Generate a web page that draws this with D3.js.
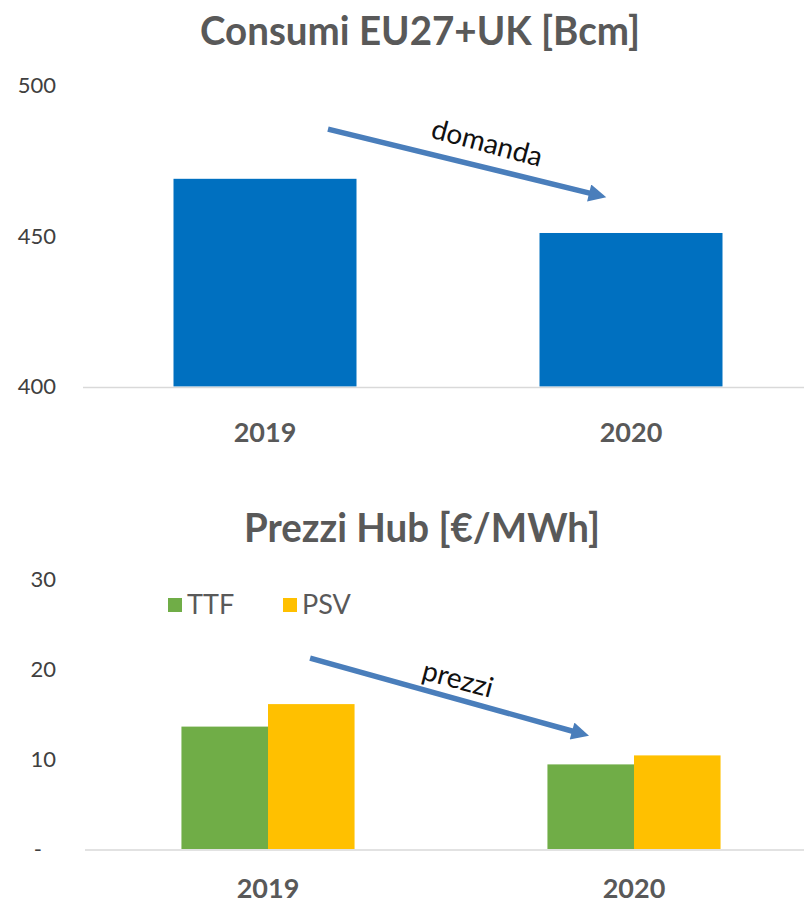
<!DOCTYPE html>
<html>
<head>
<meta charset="utf-8">
<script src="https://cdn.jsdelivr.net/npm/d3@7"></script>
<style>
  body { margin: 0; background: #fff; }
  svg { display: block; font-family: Lato, "Open Sans", sans-serif; }
</style>
</head>
<body>
<svg id="chart" width="804" height="903"></svg>
<script>
// data
const categories = ["2019", "2020"];
const consumi = [469, 451];            // Bcm
const series = ["TTF", "PSV"];
const ttf = [13.6, 9.4];               // €/MWh
const psv = [16.1, 10.4];
const topTicks = [400, 450, 500];
const bottomTicks = [0, 10, 20, 30];
const seriesColors = ["#70AD47", "#FFC000"];

const svg = d3.select('#chart');
const axisGrey = '#d9d9d9';
const titleGrey = '#595959';
const tickGrey = '#404040';
const arrowBlue = '#4a7ebb';

// arrowhead
svg.append('defs').append('marker')
    .attr('id', 'arrow')
    .attr('viewBox', '0 -5 10 10')
    .attr('refX', 2)
    .attr('refY', 0)
    .attr('markerWidth', 3.4)
    .attr('markerHeight', 3.2)
    .attr('orient', 'auto')
    .append('path')
    .attr('d', 'M0,-5L10,0L0,5Z')
    .style('fill', arrowBlue);

function drawTitle(text, x, y, width) {
    svg.append('text')
        .attr('x', x)
        .attr('y', y)
        .attr('text-anchor', 'middle')
        .attr('textLength', width)
        .attr('lengthAdjust', 'spacingAndGlyphs')
        .style('font-size', '40px')
        .style('font-weight', 'bold')
        .style('fill', titleGrey)
        .text(text);
}

function drawArrow(xs, ys, from, to, label, labelPos, angle) {
    svg.append('line')
        .attr('x1', xs(from[0])).attr('y1', ys(from[1]))
        .attr('x2', xs(to[0])).attr('y2', ys(to[1]))
        .style('stroke', arrowBlue)
        .style('stroke-width', 5.5)
        .attr('marker-end', 'url(#arrow)');
    const lx = xs(labelPos[0]), ly = ys(labelPos[1]);
    svg.append('text')
        .attr('transform', `translate(${lx},${ly}) rotate(${angle})`)
        .attr('text-anchor', 'middle')
        .attr('dy', '0.35em')
        .style('font-size', '28px')
        .style('fill', '#111')
        .text(label);
}

// ---------- top chart: Consumi ----------
const xTop = d3.scaleBand().domain(categories).range([82, 814]).paddingInner(0.5).paddingOuter(0.25);
const yTop = d3.scaleLinear().domain([400, 500]).range([386.5, 85.5]);

drawTitle('Consumi EU27+UK [Bcm]', 420, 45, 440);

svg.append('g')
    .selectAll('text')
    .data(topTicks)
    .enter().append('text')
    .attr('x', 56)
    .attr('y', d => yTop(d))
    .attr('dy', '0.35em')
    .attr('text-anchor', 'end')
    .style('font-size', '22px')
    .style('fill', tickGrey)
    .text(d => d);

svg.selectAll('.bar-top')
    .data(consumi)
    .enter().append('rect')
    .attr('class', 'bar-top')
    .attr('x', (d, i) => xTop(categories[i]))
    .attr('width', xTop.bandwidth())
    .attr('y', d => yTop(d))
    .attr('height', d => yTop(400) - yTop(d))
    .style('fill', '#0070C0');

svg.append('line')
    .attr('x1', 83).attr('x2', 804)
    .attr('y1', yTop(400) + 1).attr('y2', yTop(400) + 1)
    .style('stroke', axisGrey).style('stroke-width', 1.5);

svg.selectAll('.cat-top')
    .data(categories)
    .enter().append('text')
    .attr('class', 'cat-top')
    .attr('x', d => xTop(d) + xTop.bandwidth() / 2)
    .attr('y', 442)
    .attr('text-anchor', 'middle')
    .style('font-size', '27px')
    .style('font-weight', 'bold')
    .style('fill', titleGrey)
    .text(d => d);

// annotation positions: 0 = first category centre, 1 = second
const tTop = d3.scaleLinear().domain([0, 1])
    .range([xTop(categories[0]) + xTop.bandwidth() / 2, xTop(categories[1]) + xTop.bandwidth() / 2]);
drawArrow(tTop, yTop, [0.172, 485.5], [0.895, 464], 'domanda', [0.607, 481], 15);

// ---------- bottom chart: Prezzi ----------
const xBot = d3.scaleBand().domain(categories).range([85, 817]).paddingInner(0.527).paddingOuter(0.2635);
const xSub = d3.scaleBand().domain(series).range([0, xBot.bandwidth()]);
const yBot = d3.scaleLinear().domain([0, 30]).range([849, 579]);

drawTitle('Prezzi Hub [€/MWh]', 422, 542, 356);

svg.append('g')
    .selectAll('text')
    .data(bottomTicks)
    .enter().append('text')
    .attr('x', d => d === 0 ? 42 : 56)
    .attr('y', d => yBot(d))
    .attr('dy', '0.35em')
    .attr('text-anchor', 'end')
    .style('font-size', '22px')
    .style('fill', tickGrey)
    .text(d => d === 0 ? '-' : d);

const groups = svg.selectAll('.grp')
    .data(categories)
    .enter().append('g')
    .attr('class', 'grp')
    .attr('transform', d => `translate(${xBot(d)},0)`);

groups.selectAll('rect')
    .data((d, i) => [ttf[i], psv[i]].map((v, j) => ({ key: series[j], value: v, color: seriesColors[j] })))
    .enter().append('rect')
    .attr('x', d => xSub(d.key))
    .attr('width', xSub.bandwidth())
    .attr('y', d => yBot(d.value))
    .attr('height', d => yBot(0) - yBot(d.value))
    .style('fill', d => d.color);

svg.append('line')
    .attr('x1', 85).attr('x2', 804)
    .attr('y1', yBot(0) + 1).attr('y2', yBot(0) + 1)
    .style('stroke', axisGrey).style('stroke-width', 1.5);

svg.selectAll('.cat-bot')
    .data(categories)
    .enter().append('text')
    .attr('class', 'cat-bot')
    .attr('x', d => xBot(d) + xBot.bandwidth() / 2)
    .attr('y', 898)
    .attr('text-anchor', 'middle')
    .style('font-size', '27px')
    .style('font-weight', 'bold')
    .style('fill', titleGrey)
    .text(d => d);

// legend
const legend = svg.append('g').attr('transform', 'translate(168,605)');
const legendItem = legend.selectAll('g')
    .data(series)
    .enter().append('g')
    .attr('transform', (d, i) => `translate(${i * 115},0)`);
legendItem.append('rect')
    .attr('x', 0).attr('y', -7)
    .attr('width', 14).attr('height', 14)
    .style('fill', (d, i) => seriesColors[i]);
legendItem.append('text')
    .attr('x', 19)
    .attr('dy', '0.35em')
    .style('font-size', '27px')
    .style('fill', titleGrey)
    .text(d => d);

const tBot = d3.scaleLinear().domain([0, 1])
    .range([xBot(categories[0]) + xBot.bandwidth() / 2, xBot(categories[1]) + xBot.bandwidth() / 2]);
drawArrow(tBot, yBot, [0.115, 21.2], [0.84, 13.0], 'prezzi', [0.519, 18.9], 15);
</script>
</body>
</html>
